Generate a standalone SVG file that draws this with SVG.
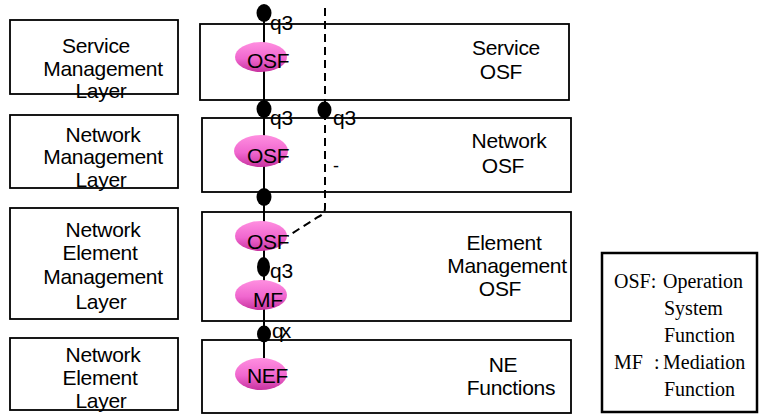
<svg xmlns="http://www.w3.org/2000/svg" width="760" height="415" viewBox="0 0 760 415">
<defs>
<linearGradient id="pink" x1="0" y1="0" x2="0" y2="1">
<stop offset="0" stop-color="#ff8fe0"/>
<stop offset="0.55" stop-color="#f067cf"/>
<stop offset="1" stop-color="#c8339f"/>
</linearGradient>
</defs>
<style>
.box{fill:none;stroke:#000;stroke-width:1.8}
.t{font-family:"Liberation Sans",Arial,sans-serif;font-size:21px;fill:#000;letter-spacing:-0.3px}
.m{text-anchor:middle}
.lg{font-family:"Liberation Serif","Times New Roman",serif;font-size:20px;fill:#000}
.ell{fill:url(#pink)}
.dot{fill:#000}
.ln{stroke:#000;stroke-width:2;fill:none}
.dash{stroke:#000;stroke-width:2;fill:none;stroke-dasharray:8 5}
</style>
<g id="layer-sml"><rect class="box" x="10" y="20" width="168" height="74"/>
<text class="t m" x="96" y="53">Service</text><text class="t m" x="103" y="76">Management</text><text class="t m" x="101" y="98">Layer</text></g>
<g id="layer-nml"><rect class="box" x="10" y="115" width="168" height="73"/>
<text class="t m" x="103" y="142">Network</text><text class="t m" x="103" y="164">Management</text><text class="t m" x="101" y="187">Layer</text></g>
<g id="layer-neml"><rect class="box" x="10" y="208" width="168" height="111"/>
<text class="t m" x="103" y="237">Network</text><text class="t m" x="100" y="260">Element</text><text class="t m" x="103" y="284">Management</text><text class="t m" x="101" y="309">Layer</text></g>
<g id="layer-nel"><rect class="box" x="10" y="338" width="168" height="72"/>
<text class="t m" x="103" y="362">Network</text><text class="t m" x="100" y="385">Element</text><text class="t m" x="101" y="408">Layer</text></g>
<g id="box-service-osf"><rect class="box" x="200" y="24" width="369" height="76"/>
<text class="t m" x="506" y="55">Service</text><text class="t m" x="501" y="79">OSF</text></g>
<g id="box-network-osf"><rect class="box" x="202" y="118" width="369" height="74"/>
<text class="t m" x="509" y="148">Network</text><text class="t m" x="503" y="173">OSF</text></g>
<g id="box-element-osf"><rect class="box" x="202" y="212" width="369" height="109"/>
<text class="t m" x="504" y="250">Element</text><text class="t m" x="507" y="273">Management</text><text class="t m" x="500" y="296">OSF</text></g>
<g id="box-ne-functions"><rect class="box" x="202" y="340" width="369" height="73"/>
<text class="t m" x="503" y="372">NE</text><text class="t m" x="511" y="395">Functions</text></g>
<g id="connectors">
<line class="ln" x1="264" y1="6" x2="264" y2="358"/>
<path class="dash" d="M325,8 L325,208 Q325,214 318,217 L288,236"/>
<ellipse class="dot" cx="264" cy="13" rx="7.5" ry="9"/>
<ellipse class="dot" cx="264" cy="109" rx="7.5" ry="9"/>
<ellipse class="dot" cx="324.5" cy="110" rx="7" ry="8.5"/>
<ellipse class="dot" cx="264" cy="197" rx="7.5" ry="9"/>
<ellipse class="dot" cx="263.5" cy="267" rx="6.5" ry="10"/>
<ellipse class="dot" cx="264" cy="334" rx="7" ry="8.5"/>
<text class="t" x="270" y="30">q3</text>
<text class="t" x="270" y="125">q3</text>
<text class="t" x="333" y="125">q3</text>
<text class="t" x="270" y="278">q3</text>
<text class="t" x="272" y="338" style="letter-spacing:-3px">qx</text>
<text class="t" x="333" y="172" style="font-size:18px">-</text>
</g>
<g id="osf-service"><ellipse class="ell" cx="261" cy="57" rx="26" ry="15"/><text class="t" x="247" y="68">OSF</text></g>
<g id="osf-network"><ellipse class="ell" cx="261" cy="151" rx="27" ry="16"/><text class="t" x="247" y="163">OSF</text></g>
<g id="osf-element"><ellipse class="ell" cx="261" cy="236" rx="26" ry="15"/><text class="t" x="247" y="249">OSF</text></g>
<g id="mf"><ellipse class="ell" cx="261" cy="295" rx="26" ry="15"/><text class="t" x="253" y="307">MF</text></g>
<g id="nef"><ellipse class="ell" cx="261" cy="374" rx="26" ry="16"/><text class="t" x="247" y="383">NEF</text></g>
<g id="legend"><rect x="602" y="253" width="155" height="159" fill="none" stroke="#000" stroke-width="2.5"/>
<text class="lg" x="614" y="288">OSF:</text><text class="lg" x="663" y="288">Operation</text>
<text class="lg" x="664" y="315">System</text>
<text class="lg" x="664" y="342">Function</text>
<text class="lg" x="614" y="369">MF</text><text class="lg" x="654" y="369">:</text><text class="lg" x="663" y="369">Mediation</text>
<text class="lg" x="664" y="396">Function</text></g>
</svg>
